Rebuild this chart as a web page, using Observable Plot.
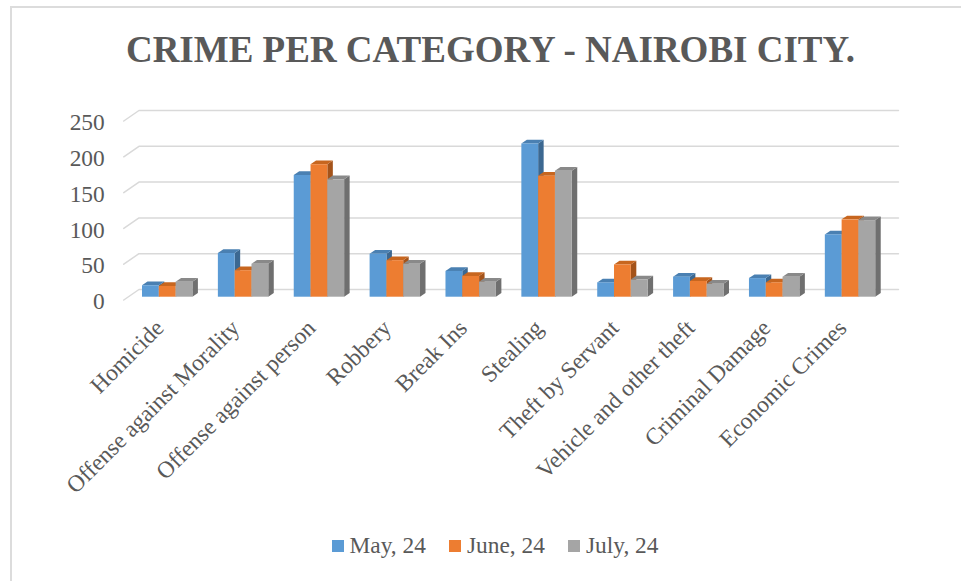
<!DOCTYPE html>
<html>
<head>
<meta charset="utf-8">
<script src="https://cdn.jsdelivr.net/npm/d3@7"></script>
<script src="https://cdn.jsdelivr.net/npm/@observablehq/plot@0.6"></script>
<style>
  html, body { margin: 0; padding: 0; background: #fff; overflow: hidden; width: 961px; height: 581px; }
  #frame { position: absolute; left: 10px; top: 6px; width: 1000px; height: 1000px; border: 2px solid #dcdcdc; box-sizing: border-box; }
  #title { position: absolute; left: 0; top: 29.1px; width: 981px; text-align: center;
           font: bold 37px "Liberation Serif", "Times New Roman", serif; line-height: 41px; color: #595959; white-space: nowrap; }
  #chart { position: absolute; left: 0; top: 0; }
  #legend { position: absolute; left: 0; top: 532px; width: 990px; display: flex; justify-content: center;
            font: 23.4px "Liberation Serif", "Times New Roman", serif; line-height: 26px; color: #595959; white-space: nowrap; }
  #legend .item { margin-right: 23px; }
  #legend .item:last-child { margin-right: 0; }
  #legend .sw { display: inline-block; width: 12px; height: 12px; margin-right: 6px; vertical-align: 1px; }
</style>
</head>
<body>
<div id="frame"></div>
<div id="title">CRIME PER CATEGORY - NAIROBI CITY.</div>
<div id="chart"></div>
<div id="legend"></div>
<script>
// ---- data ----
const categories = ["Homicide", "Offense against Morality", "Offense against person", "Robbery", "Break Ins",
  "Stealing", "Theft by Servant", "Vehicle and other theft", "Criminal Damage", "Economic Crimes"];
const seriesNames = ["May, 24", "June, 24", "July, 24"];
const may  = [16, 61, 170, 60, 36, 214, 20, 28, 26, 87];
const june = [15, 37, 185, 51, 29, 169, 45, 22, 20, 108];
const july = [21, 46, 164, 46, 21, 176, 24, 18, 28, 107];
const yTicks = [0, 50, 100, 150, 200, 250];

// ---- styles ----
const frontColors = ["#5B9BD5", "#ED7D31", "#A5A5A5"];
const topColors   = ["#4A80B2", "#C7661F", "#898989"];
const sideColors  = ["#3C6891", "#A4531A", "#6F6F6F"];
const textColor = "#595959";
const gridColor = "#d9d9d9";

// ---- layout (pixels) ----
const W = 961, H = 520;
const bandPx = 75.87;          // pixel width of one category
const firstCenterPx = 167.2;   // pixel centre of first category
const yTopPx = 117.7, yBottomPx = 296.7;
const pxX = 1 / bandPx;                       // data units per px (x)
const pxY = 250 / (yBottomPx - yTopPx);       // data units per px (y)
const barW = 16.8 * pxX, groupStart = -25.2 * pxX;
const depthX = 5.5 * pxX, depthY = 3.7 * pxY;
const wallFrontX = -0.5 - 6 * pxX, wallBackX = -0.5 + 9.2 * pxX, wallRight = 9.5 + 10 * pxX;
const wallFrontDy = -2.8 * pxY, wallBackDy = 7.7 * pxY;

const values = [may, june, july];
const bars = [];
values.forEach((arr, s) => arr.forEach((v, i) => {
  const x1 = i + groupStart + s * barW;
  bars.push({s, i, v, x1, x2: x1 + barW});
}));

const grid = [];
yTicks.forEach(t => {
  grid.push({t, x: wallFrontX, y: t + wallFrontDy});
  grid.push({t, x: wallBackX, y: t + wallBackDy});
  grid.push({t, x: wallRight, y: t + wallBackDy});
});

const marks = [
  Plot.line(grid, {x: "x", y: "y", z: "t", stroke: gridColor, strokeWidth: 1.5, curve: "linear"})
];
for (let s = 0; s < 3; s++) {
  const b = bars.filter(d => d.s === s);
  const side = b.flatMap(d => [
    {i: d.i, x: d.x2, y1: 0, y2: d.v},
    {i: d.i, x: d.x2 + depthX, y1: depthY, y2: d.v + depthY}
  ]);
  const top = b.flatMap(d => [
    {i: d.i, y: d.v, x1: d.x1, x2: d.x2},
    {i: d.i, y: d.v + depthY, x1: d.x1 + depthX, x2: d.x2 + depthX}
  ]);
  marks.push(Plot.areaY(side, {x: "x", y1: "y1", y2: "y2", z: "i", fill: sideColors[s], curve: "linear"}));
  marks.push(Plot.areaX(top, {y: "y", x1: "x1", x2: "x2", z: "i", fill: topColors[s], curve: "linear"}));
  marks.push(Plot.rect(b, {x1: "x1", x2: "x2", y1: 0, y2: "v", fill: frontColors[s]}));
}
marks.push(Plot.axisY({ticks: yTicks, tickSize: 0, tickPadding: 25, dy: 4.5, label: null, fontSize: 23.4}));
marks.push(Plot.axisX({ticks: d3.range(categories.length), tickFormat: i => categories[i], tickRotate: -45,
  tickSize: 0, tickPadding: 25, label: null, fontSize: 23.4, textAnchor: "end", lineAnchor: "middle", dx: -8, dy: 2}));

const chart = Plot.plot({
  width: W, height: H,
  marginLeft: firstCenterPx - bandPx / 2,
  marginRight: W - (firstCenterPx + bandPx * (categories.length - 0.5)),
  marginTop: yTopPx, marginBottom: H - yBottomPx,
  x: {type: "linear", domain: [-0.5, categories.length - 0.5]},
  y: {type: "linear", domain: [0, 250]},
  style: {fontFamily: "'Liberation Serif', 'Times New Roman', serif", color: textColor, background: "transparent", overflow: "visible"},
  marks
});
document.getElementById("chart").appendChild(chart);

// legend
const legend = document.getElementById("legend");
seriesNames.forEach((name, s) => {
  const item = document.createElement("span");
  item.className = "item";
  const sw = document.createElement("span");
  sw.className = "sw";
  sw.style.background = frontColors[s];
  item.appendChild(sw);
  item.appendChild(document.createTextNode(name));
  legend.appendChild(item);
});
</script>
</body>
</html>
